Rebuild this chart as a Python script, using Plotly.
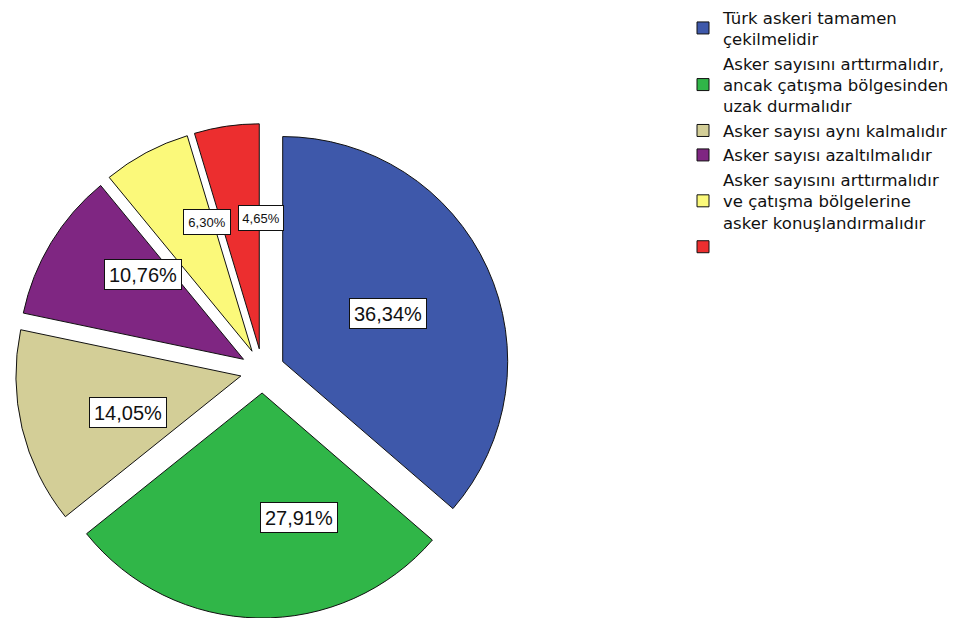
import math
import plotly.graph_objects as go

# ---- data ----
labels = [
    "Türk askeri tamamen<br>çekilmelidir",
    "Asker sayısını arttırmalıdır,<br>ancak çatışma bölgesinden<br>uzak durmalıdır",
    "Asker sayısı aynı kalmalıdır",
    "Asker sayısı azaltılmalıdır",
    "Asker sayısını arttırmalıdır<br>ve çatışma bölgelerine<br>asker konuşlandırmalıdır",
    " ",
]
values = [36.34, 27.91, 14.05, 10.76, 6.30, 4.65]
value_text = ["36,34%", "27,91%", "14,05%", "10,76%", "6,30%", "4,65%"]

# ---- style ----
colors = ["#3e58aa", "#30b648", "#d3ce97", "#7f2682", "#fbf97a", "#ec2e2f"]
# the page body has an 8px margin, so the figure is sized to fit the window
W, H = 969, 610
pull = 0.0987
dom_x = [0.00753, 0.51775]
dom_y = [0.0, 0.8105]
label_frac = [0.515, 0.622, 0.696, 0.725, 0.651, 0.648]
label_font = [20, 20, 20, 20, 13, 13]
label_w = [70, 70, 70, 70, 40, 38]
label_h = [23, 23, 23, 23, 18, 18]

fig = go.Figure(go.Pie(
    labels=labels,
    values=values,
    sort=False,
    direction="clockwise",
    rotation=0,
    pull=[pull] * len(values),
    marker=dict(colors=colors, line=dict(color="#111111", width=1)),
    textinfo="none",
    hoverinfo="label+percent",
    domain=dict(x=dom_x, y=dom_y),
))

# geometry mirroring plotly's pie layout (margins are zero)
rx = W * (dom_x[1] - dom_x[0]) / 2
ry = H * (dom_y[1] - dom_y[0]) / 2
R = min(rx, ry) / (1 + pull)
cx = W * (dom_x[0] + dom_x[1]) / 2
cy = H * (1 - dom_y[0]) - ry
total = sum(values)

annotations = []
cum = 0.0
for v, t, f, fs, w, h in zip(values, value_text, label_frac, label_font, label_w, label_h):
    mid = (cum + v / 2) / total * 2 * math.pi
    cum += v
    dx, dy = math.sin(mid), -math.cos(mid)
    px = cx + dx * (pull * R + f * R)
    py = cy + dy * (pull * R + f * R)
    annotations.append(dict(
        x=px / W, y=1 - py / H, xref="paper", yref="paper",
        text=t, showarrow=False,
        font=dict(family="Liberation Sans, Arial, sans-serif", size=fs, color="#111111"),
        bgcolor="white", bordercolor="#111111", borderwidth=1, borderpad=3,
        width=w, height=h, align="center", valign="middle",
    ))

fig.update_layout(
    width=W, height=H,
    margin=dict(l=0, r=0, t=0, b=0, autoexpand=False),
    paper_bgcolor="white",
    plot_bgcolor="white",
    showlegend=True,
    legend=dict(
        x=675 / W, y=1 + 8 / H, xanchor="left", yanchor="top",
        font=dict(family="DejaVu Sans, sans-serif", size=16.5, color="#111111"),
        bgcolor="rgba(0,0,0,0)", itemclick=False, itemdoubleclick=False,
        traceorder="normal", valign="middle",
    ),
    annotations=annotations,
)

fig.write_html("out.html")
